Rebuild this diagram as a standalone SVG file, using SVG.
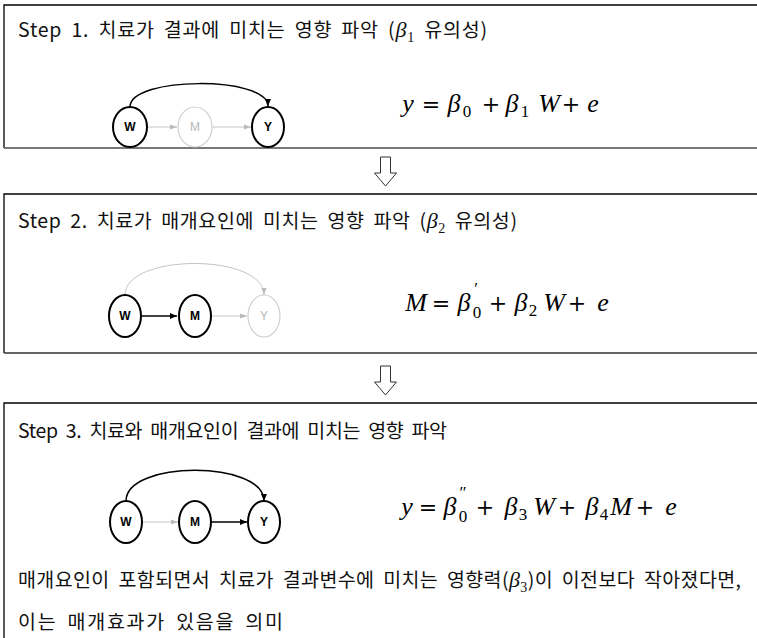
<svg xmlns="http://www.w3.org/2000/svg" width="757" height="638" viewBox="0 0 757 638">
<style>
.bl{stroke:#000;stroke-width:1.3;fill:none}
.bb{stroke:#777;stroke-width:2.2;fill:none}
.t{font-family:"Noto Sans CJK KR","Noto Sans",sans-serif;font-size:19.5px;fill:#111;word-spacing:4px}
.gk{font-family:"Liberation Serif",serif;font-style:italic;font-size:22px}
.gs{font-family:"Liberation Serif",serif;font-size:14px}
.eq{font-family:"Liberation Serif",serif;font-style:italic;font-size:26px;fill:#000;text-anchor:middle}
.op{font-family:"DejaVu Serif",serif;font-style:normal;font-size:22px}
.sb{font-style:normal;font-size:17px}
.nd{fill:#fff;stroke:#000;stroke-width:2}
.ndl{fill:#fff;stroke:#cfcfcf;stroke-width:1.2}
.lb{font-family:"Liberation Sans",sans-serif;font-size:12px;font-weight:bold;text-anchor:middle;fill:#000}
.lbl{font-family:"Liberation Sans",sans-serif;font-size:12px;text-anchor:middle;fill:#b5b5b5}
.ck{stroke:#000;stroke-width:1.5;fill:none}
.cg{stroke:#c4c4c4;stroke-width:1;fill:none}
.dn{fill:#fff;stroke:#333;stroke-width:1}
</style>
<defs>
<marker id="ak" markerWidth="8" markerHeight="8" refX="7" refY="4" orient="auto" markerUnits="userSpaceOnUse"><path d="M0,1 L7,4 L0,7 z" fill="#000"/></marker>
<marker id="ag" markerWidth="8" markerHeight="8" refX="7" refY="4" orient="auto" markerUnits="userSpaceOnUse"><path d="M0,1.5 L7,4 L0,6.5 z" fill="#bbb"/></marker>
</defs>
<rect width="757" height="638" fill="#fff"/>

<g id="box1">
<path class="bl" d="M4,148 V5 H757"/>
<path class="bb" d="M4,148 H757"/>
</g>
<g id="box2">
<path class="bl" d="M4,353 V194 H757"/>
<path class="bl" d="M4,353 H757" style="stroke:#333;stroke-width:1.5"/>
</g>
<g id="box3">
<path class="bl" d="M4,640 V403 H757"/>
</g>

<g id="arrow1"><path class="dn" d="M380.5,157 H390.5 V173 H396.5 L385.5,186 L374.5,173 H380.5 Z"/></g>
<g id="arrow2"><path class="dn" d="M380.5,366 H390.5 V382 H396.5 L385.5,395 L374.5,382 H380.5 Z"/></g>

<text class="t" x="18" y="37" textLength="469" lengthAdjust="spacing">Step 1. 치료가 결과에 미치는 영향 파악 (<tspan class="gk">β</tspan><tspan class="gs" dy="5">1</tspan><tspan dy="-5"> 유의성)</tspan></text>
<text class="t" x="18" y="228" textLength="499" lengthAdjust="spacing">Step 2. 치료가 매개요인에 미치는 영향 파악 (<tspan class="gk">β</tspan><tspan class="gs" dy="5">2</tspan><tspan dy="-5"> 유의성)</tspan></text>
<text class="t" x="18" y="438" textLength="429" lengthAdjust="spacing">Step 3. 치료와 매개요인이 결과에 미치는 영향 파악</text>
<text class="t" x="18" y="587" textLength="723" lengthAdjust="spacing">매개요인이 포함되면서 치료가 결과변수에 미치는 영향력(<tspan class="gk">β</tspan><tspan class="gs" dy="5">3</tspan><tspan dy="-5">)이 이전보다 작아졌다면,</tspan></text>
<text class="t" x="18" y="629" textLength="265" lengthAdjust="spacing">이는 매개효과가 있음을 의미</text>

<g id="connectors">
<path class="ck" d="M130,107 C130,76 268,76 268,106" marker-end="url(#ak)"/>
<path class="cg" d="M147,127 H177" marker-end="url(#ag)"/>
<path class="cg" d="M212,127 H251" marker-end="url(#ag)"/>

<path class="cg" d="M125,295 C125,253 264,253 264,295" marker-end="url(#ag)"/>
<path class="ck" d="M142,316 H177" marker-end="url(#ak)"/>
<path class="cg" d="M212,316 H247" marker-end="url(#ag)"/>

<path class="ck" d="M126,501 C126,460 264,460 264,501" marker-end="url(#ak)"/>
<path class="cg" d="M143,522 H178" marker-end="url(#ag)"/>
<path class="ck" d="M212,522 H247" marker-end="url(#ak)"/>
</g>

<g id="s1W"><ellipse class="nd" cx="130" cy="127" rx="17" ry="20"/><text class="lb" x="130" y="131">W</text></g>
<g id="s1M"><ellipse class="ndl" cx="195" cy="127" rx="17" ry="20"/><text class="lbl" x="195" y="131">M</text></g>
<g id="s1Y"><ellipse class="nd" cx="268" cy="127" rx="16" ry="20"/><text class="lb" x="268" y="131">Y</text></g>
<g id="s2W"><ellipse class="nd" cx="125" cy="316" rx="16" ry="21"/><text class="lb" x="125" y="320">W</text></g>
<g id="s2M"><ellipse class="nd" cx="195" cy="316" rx="16" ry="21"/><text class="lb" x="195" y="320">M</text></g>
<g id="s2Y"><ellipse class="ndl" cx="264" cy="316" rx="16" ry="21"/><text class="lbl" x="264" y="320">Y</text></g>
<g id="s3W"><ellipse class="nd" cx="126" cy="522" rx="16" ry="21"/><text class="lb" x="126" y="526">W</text></g>
<g id="s3M"><ellipse class="nd" cx="195" cy="522" rx="16" ry="21"/><text class="lb" x="195" y="526">M</text></g>
<g id="s3Y"><ellipse class="nd" cx="264" cy="522" rx="16" ry="21"/><text class="lb" x="264" y="526">Y</text></g>

<g id="eq1">
<text class="eq"><tspan x="408" y="112">y</tspan><tspan class="op" x="431" y="112">=</tspan><tspan x="454" y="112">β</tspan><tspan class="sb" x="467" y="117">0</tspan><tspan class="op" x="491" y="112">+</tspan><tspan x="512" y="112">β</tspan><tspan class="sb" x="525" y="117">1</tspan><tspan x="549" y="112">W</tspan><tspan class="op" x="571" y="112">+</tspan><tspan x="593" y="112">e</tspan></text>
</g>
<g id="eq2">
<text class="eq"><tspan x="464" y="311">β</tspan><tspan x="416" y="311">M</tspan><tspan class="op" x="441" y="311">=</tspan><tspan class="sb" x="476" y="294">′</tspan><tspan class="sb" x="477" y="318">0</tspan><tspan class="op" x="498" y="311">+</tspan><tspan x="521" y="311">β</tspan><tspan class="sb" x="533" y="316">2</tspan><tspan x="554" y="311">W</tspan><tspan class="op" x="577" y="311">+</tspan><tspan x="603" y="311">e</tspan></text>
</g>
<g id="eq3">
<text class="eq"><tspan x="407" y="515">y</tspan><tspan class="op" x="428" y="515">=</tspan><tspan x="450" y="515">β</tspan><tspan class="sb" x="463" y="498">″</tspan><tspan class="sb" x="463" y="522">0</tspan><tspan class="op" x="485" y="515">+</tspan><tspan x="511" y="515">β</tspan><tspan class="sb" x="523" y="520">3</tspan><tspan x="544" y="515">W</tspan><tspan class="op" x="567" y="515">+</tspan><tspan x="592" y="515">β</tspan><tspan class="sb" x="604" y="520">4</tspan><tspan x="621" y="515">M</tspan><tspan class="op" x="645" y="515">+</tspan><tspan x="671" y="515">e</tspan></text>
</g>
</svg>
